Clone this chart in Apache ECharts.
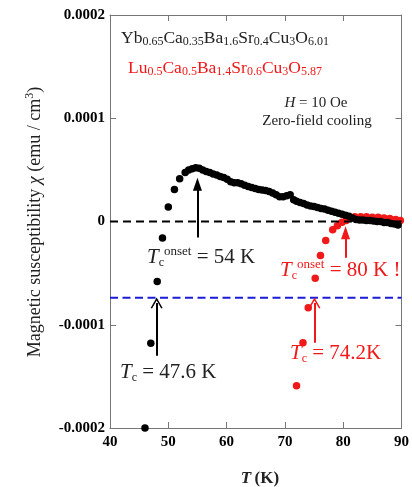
<!DOCTYPE html>
<html>
<head>
<meta charset="utf-8">
<title>Magnetic susceptibility</title>
<script src="https://cdn.jsdelivr.net/npm/echarts@6/dist/echarts.min.js"></script>
<style>
  html, body { margin: 0; padding: 0; background: #fff; }
  #main { width: 412px; height: 487px; }
</style>
</head>
<body>
<div id="main"></div>
<script>
  // susceptibility values in units of 1e-5 emu / cm3
  var ybT = [46.0, 47.0, 48.1, 49.0, 50.0, 51.05, 51.95, 52.9, 53.5, 54.1, 54.7, 55.3, 55.9, 56.5, 57.1, 57.7,
    58.3, 58.9, 59.5, 60.1, 60.7, 61.3, 61.9, 62.5, 63.1, 63.7, 64.3, 64.9, 65.5, 66.1, 66.7, 67.3, 67.9,
    68.5, 69.1, 69.7, 70.3, 70.9, 71.5, 72.0, 72.6, 73.2, 73.8, 74.4, 75.0, 75.6, 76.2, 76.8, 77.4, 78.0,
    78.6, 79.2, 79.8, 80.4, 81.0, 81.6, 82.2, 82.8, 83.4, 84.0, 84.6, 85.2, 85.8, 86.4, 87.0, 87.6, 88.2,
    88.8, 89.4];
  var ybChi = [-20.0, -11.8, -5.8, -1.6, 1.4, 3.1, 4.15, 4.75, 5.0, 5.1, 5.2, 5.15, 5.0, 4.85, 4.75, 4.6,
    4.5, 4.35, 4.25, 4.1, 3.85, 3.75, 3.75, 3.65, 3.5, 3.4, 3.3, 3.2, 3.1, 3.05, 3.0, 2.9, 2.75,
    2.6, 2.4, 2.4, 2.5, 2.6, 2.1, 1.95, 1.85, 1.75, 1.6, 1.5, 1.45, 1.35, 1.25, 1.2, 1.1, 1.0,
    0.9, 0.8, 0.7, 0.6, 0.5, 0.35, 0.2, 0.15, 0.15, 0.1, 0.1, 0.05, 0.0, 0.0, -0.1, -0.1, -0.2,
    -0.25, -0.35];
  var luT = [72.0, 73.1, 74.0, 75.2, 76.1, 77.0, 78.2, 79.0, 79.8, 80.5, 81.2, 82.0, 83.0, 84.0, 85.0,
    86.0, 87.0, 88.0, 89.0, 89.8];
  var luChi = [-15.9, -11.75, -8.35, -5.5, -3.3, -1.85, -0.8, -0.4, -0.07, 0.1, 0.3, 0.45, 0.45, 0.45, 0.4,
    0.4, 0.35, 0.3, 0.2, 0.1];
  var zeroLevel = 0;
  var tcLevel = -7.38;

  var serif = 'Liberation Serif';
  var red = '#f01818';
  var ink = '#222';
  var chart = echarts.init(document.getElementById('main'));

  function pairs(xs, ys) {
    var out = [];
    for (var i = 0; i < xs.length; i++) out.push([xs[i], ys[i]]);
    return out;
  }

  // open "V" arrow head
  var vHead = 'path://M0,11 L6,0 L12,11 L10.6,11.6 L6,3 L1.4,11.6 Z';

  function arrow(x, y0, y1, color, head, size) {
    return [
      { coord: [x, y0], symbol: 'none' },
      { coord: [x, y1], symbol: head, symbolSize: size, lineStyle: { color: color, width: 2, type: 'solid' } }
    ];
  }

  // T_c style label with optional "onset" superscript
  function tcLabel(x, y, tail, color, onset) {
    return {
      type: 'text', x: x, y: y,
      style: {
        text: '{i|T}{b|c}' + (onset ? '{p|onset}' : '') + tail,
        fill: color, font: '21px ' + serif, verticalAlign: 'middle', lineHeight: 24,
        rich: {
          i: { fontStyle: 'italic', fontSize: 21, fontFamily: serif, fill: color, lineHeight: 24 },
          b: { fontSize: 12, fontFamily: serif, fill: color, lineHeight: 8, verticalAlign: 'bottom' },
          p: { fontSize: 13, fontFamily: serif, fill: color, lineHeight: 8, verticalAlign: 'top' }
        }
      }
    };
  }

  function formula(x, y, text, color) {
    return {
      type: 'text', x: x, y: y,
      style: {
        text: text, fill: color, font: '17.5px ' + serif, verticalAlign: 'middle', lineHeight: 20,
        rich: { s: { fontSize: 12, fontFamily: serif, lineHeight: 10, verticalAlign: 'bottom', fill: color } }
      }
    };
  }

  var axisCommon = {
    type: 'value',
    axisLine: { onZero: false, lineStyle: { color: '#777', width: 1 } },
    axisTick: { inside: true, length: 6, lineStyle: { color: '#777' } },
    splitLine: { show: false },
    axisLabel: { color: '#000', fontFamily: serif, fontWeight: 'bold', fontSize: 15 }
  };

  var option = {
    animation: false,
    backgroundColor: '#fff',
    grid: { left: 110, right: 6, top: 15, bottom: 59 },
    xAxis: [
      Object.assign({}, axisCommon, { min: 40, max: 90, interval: 10, position: 'bottom',
        axisLabel: Object.assign({}, axisCommon.axisLabel, { margin: 7 }) }),
      Object.assign({}, axisCommon, { min: 40, max: 90, interval: 10, position: 'top',
        axisLabel: { show: false } })
    ],
    yAxis: [
      Object.assign({}, axisCommon, { min: -20, max: 20, interval: 10, position: 'left',
        axisLabel: Object.assign({}, axisCommon.axisLabel, { margin: 5,
          formatter: function (v) { return v === 0 ? '0' : (v / 1e5).toFixed(4); } }) }),
      Object.assign({}, axisCommon, { min: -20, max: 20, interval: 10, position: 'right',
        axisLabel: { show: false } })
    ],
    series: [{
      type: 'line',
      data: [[40, tcLevel], [90, tcLevel]],
      symbol: 'none',
      lineStyle: { color: '#1c1cd6', width: 2, type: [8, 4.5] }
    }, {
      type: 'line',
      data: [[40, zeroLevel], [90, zeroLevel]],
      symbol: 'none',
      lineStyle: { color: '#000', width: 2, type: [8, 5] },
      markLine: {
        silent: true,
        label: { show: false },
        lineStyle: { width: 2, type: 'solid' },
        data: [
          arrow(55.0, -1.55, 3.6, '#000', 'triangle', [9, 13]),
          arrow(80.4, -3.5, -1.1, red, 'triangle', [9, 13]),
          arrow(48.0, -13.0, -7.9, '#000', vHead, [12, 11]),
          arrow(75.07, -11.75, -7.9, red, vHead, [12, 11])
        ]
      }
    }, {
      name: 'Lu', type: 'scatter',
      data: pairs(luT, luChi),
      symbolSize: 7.5,
      itemStyle: { color: red, opacity: 1 }
    }, {
      name: 'Yb', type: 'scatter',
      data: pairs(ybT, ybChi),
      symbolSize: 7.5,
      itemStyle: { color: '#000', opacity: 1 }
    }],
    graphic: [
      formula(121, 38, 'Yb{s|0.65}Ca{s|0.35}Ba{s|1.6}Sr{s|0.4}Cu{s|3}O{s|6.01}', ink),
      formula(128, 68, 'Lu{s|0.5}Ca{s|0.5}Ba{s|1.4}Sr{s|0.6}Cu{s|3}O{s|5.87}', red),
      {
        type: 'text', x: 316, y: 103,
        style: {
          text: '{i|H} = 10 Oe', fill: ink, font: '15px ' + serif, align: 'center', verticalAlign: 'middle',
          rich: { i: { fontStyle: 'italic', fontSize: 15, fontFamily: serif, fill: ink } }
        }
      }, {
        type: 'text', x: 317, y: 121,
        style: { text: 'Zero-field cooling', fill: ink, font: '15px ' + serif, align: 'center', verticalAlign: 'middle' }
      },
      tcLabel(147, 257, ' = 54 K', ink, true),
      tcLabel(280, 270, ' = 80 K !', red, true),
      tcLabel(120, 372, ' = 47.6 K', ink, false),
      tcLabel(290, 353, ' = 74.2K', red, false),
      {
        type: 'text', x: 35, y: 222, rotation: Math.PI / 2,
        style: {
          text: 'Magnetic susceptibility {i|χ} (emu / cm{p|3})', fill: ink, font: '18px ' + serif,
          align: 'center', verticalAlign: 'middle', lineHeight: 22,
          rich: {
            i: { fontStyle: 'italic', fontSize: 18, fontFamily: serif, fill: ink },
            p: { fontSize: 12, fontFamily: serif, fill: ink, lineHeight: 9, verticalAlign: 'top' }
          }
        }
      }, {
        type: 'text', x: 260, y: 479,
        style: {
          text: '{i|T}\u2009(K)', fill: ink, font: 'bold 17px ' + serif, align: 'center', verticalAlign: 'middle',
          rich: { i: { fontStyle: 'italic', fontWeight: 'bold', fontSize: 17, fontFamily: serif, fill: ink } }
        }
      }
    ]
  };

  chart.setOption(option);
</script>
</body>
</html>
